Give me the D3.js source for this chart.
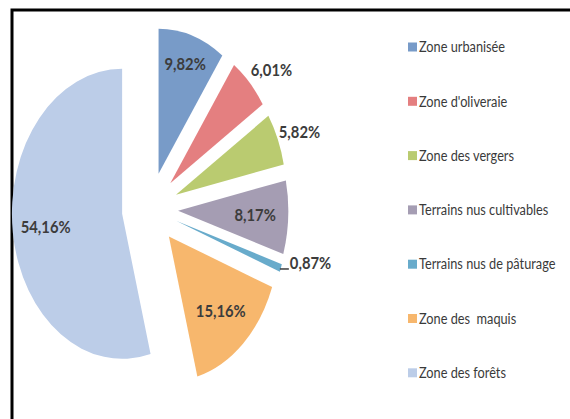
<!DOCTYPE html>
<html>
<head>
<meta charset="utf-8">
<script src="https://cdn.jsdelivr.net/npm/d3@7"></script>
<style>
  html, body { margin: 0; padding: 0; background: #ffffff; }
  svg { display: block; }
</style>
</head>
<body>
<svg id="chart" width="570" height="419"></svg>
<script>
// ---- data ----
const categories = [
  "Zone urbanisée",
  "Zone d'oliveraie",
  "Zone des vergers",
  "Terrains nus cultivables",
  "Terrains nus de pâturage",
  "Zone des  maquis",
  "Zone des forêts"
];
const values = [9.82, 6.01, 5.82, 8.17, 0.87, 15.16, 54.16];
const colors = ["#789bc8", "#e47f80", "#bacb70", "#a59db3", "#68abcb", "#f7b76d", "#bccde8"];

// ---- layout ----
const W = 570, H = 419;
const cx = 150, cy = 209;      // pie centre
const R = 145;                 // radius (vertical)
const sx = 0.76;               // horizontal squash of the scanned pie
const explode = 37;            // explode distance

const svg = d3.select("#chart");
svg.append("rect").attr("width", W).attr("height", H).attr("fill", "#ffffff");

// frame
svg.append("rect")
  .attr("x", 12).attr("y", 10)
  .attr("width", W + 20).attr("height", H + 20)
  .attr("fill", "none").attr("stroke", "#000").attr("stroke-width", 3);

const pie = d3.pie().sort(null).value(d => d)
  .startAngle(0).endAngle(2 * Math.PI);
const arcs = pie(values);
const arc = d3.arc().innerRadius(0).outerRadius(R);

const pieG = svg.append("g").attr("transform", `translate(${cx},${cy}) scale(${sx},1)`);
pieG.selectAll("path").data(arcs).enter().append("path")
  .attr("d", arc)
  .attr("fill", (d, i) => colors[i])
  .attr("transform", d => {
    const m = (d.startAngle + d.endAngle) / 2;
    return `translate(${explode * Math.sin(m)},${-explode * Math.cos(m)})`;
  });

// screen position of a point at radius r along the bisector of slice d
function pt(d, r) {
  const m = (d.startAngle + d.endAngle) / 2;
  return [
    cx + sx * (explode + r) * Math.sin(m),
    cy - (explode + r) * Math.cos(m)
  ];
}

const fmt = v => d3.format(".2f")(v).replace(".", ",") + "%";
const total = d3.sum(values);
const lblScale = 0.87;

const labelG = svg.append("g")
  .attr("font-family", "Lato, 'Open Sans', sans-serif")
  .attr("font-weight", "bold")
  .attr("font-size", 17)
  .attr("fill", "#3c3c3c");

arcs.forEach((d, i) => {
  const share = values[i] / total;
  const m = (d.startAngle + d.endAngle) / 2;
  if (share < 0.02) {
    // tiny slice: leader + label starting to the right
    const p = pt(d, R);
    labelG.append("line")
      .attr("x1", p[0] - 1).attr("x2", p[0] + 8)
      .attr("y1", p[1] + 1).attr("y2", p[1] + 1)
      .attr("stroke", "#3c3c3c").attr("stroke-width", 1.5);
    labelG.append("g")
      .attr("transform", `translate(${p[0] + 9},${p[1] + 1}) scale(${lblScale},1)`)
      .append("text").attr("text-anchor", "start").text(fmt(values[i]));
  } else if (share > 0.07) {
    // inside label
    const f = 0.7 + 0.1 * Math.max(0, Math.cos(m));
    const p = pt(d, R * f);
    labelG.append("g")
      .attr("transform", `translate(${p[0]},${p[1]}) scale(${lblScale},1)`)
      .append("text")
      .attr("text-anchor", "middle")
      .attr("dy", "0.35em")
      .text(fmt(values[i]));
  } else {
    // outside label, box placed beside the arc
    const p = pt(d, R);
    const g = labelG.append("g");
    const t = g.append("text")
      .attr("text-anchor", "middle")
      .attr("dy", "0.35em")
      .text(fmt(values[i]));
    const w = t.node().getComputedTextLength() * lblScale;
    g.attr("transform",
      `translate(${p[0] + Math.sign(Math.sin(m)) * (w / 2 + 1)},${p[1] - 18 * Math.cos(m)}) scale(${lblScale},1)`);
  }
});

// legend
const legX = 408, legY0 = 47, legStep = 54.3;
const legG = svg.append("g")
  .attr("font-family", "Lato, 'Open Sans', sans-serif")
  .attr("font-size", 15)
  .attr("fill", "#3a3a3a");
categories.forEach((c, i) => {
  const y = legY0 + i * legStep;
  legG.append("rect")
    .attr("x", legX).attr("y", y - 4.5)
    .attr("width", 9).attr("height", 9)
    .attr("fill", colors[i]);
  legG.append("g")
    .attr("transform", `translate(${legX + 11},${y}) scale(0.85,1)`)
    .append("text")
    .attr("dy", "0.35em")
    .style("white-space", "pre")
    .text(c);
});
</script>
</body>
</html>
